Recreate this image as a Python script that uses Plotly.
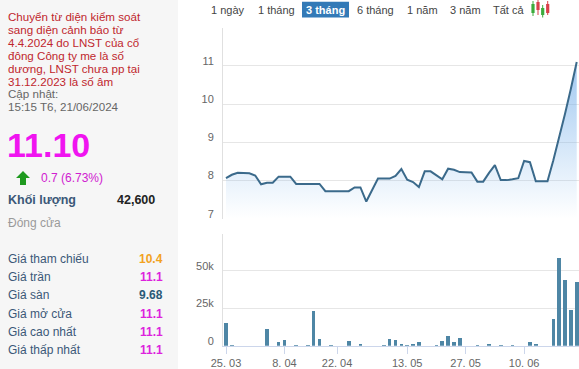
import plotly.graph_objects as go

W, H = 579, 369

# ---------------- data ----------------
dates = ["25.03", "26.03", "27.03", "28.03", "29.03",
         "01.04", "02.04", "03.04", "04.04", "05.04",
         "08.04", "09.04", "10.04", "11.04", "12.04",
         "15.04", "16.04", "17.04", "19.04",
         "22.04", "23.04", "24.04", "25.04", "26.04",
         "02.05", "03.05",
         "06.05", "07.05", "08.05", "09.05", "10.05",
         "13.05", "14.05", "15.05", "16.05", "17.05",
         "20.05", "21.05", "22.05", "23.05", "24.05",
         "27.05", "28.05", "29.05", "30.05", "31.05",
         "03.06", "04.06", "05.06", "06.06", "07.06",
         "10.06", "11.06", "12.06", "13.06", "14.06",
         "17.06", "18.06", "19.06", "20.06", "21.06"]

prices = [8.06, 8.15, 8.2, 8.2, 8.19,
          8.13, 7.9, 7.94, 7.94, 8.1,
          8.1, 8.1, 7.91, 7.91, 7.91,
          7.91, 7.91, 7.72, 7.72,
          7.72, 7.72, 7.72, 7.82, 7.82,
          7.45, 7.75,
          8.05, 8.05, 8.05, 8.12, 8.3,
          8.02, 7.96, 7.83, 8.24, 8.24,
          8.13, 8.03, 8.31, 8.28, 8.22,
          8.22, 8.21, 7.97, 7.97, 8.2,
          8.4, 8.01, 8.01, 8.03, 8.06,
          8.51, 8.48, 7.98, 7.98, 7.98,
          8.53, 9.12, 9.75, 10.4, 11.1]

volumes = [15300, 500, 0, 0, 0,
           0, 0, 11600, 0, 2700,
           4200, 0, 400, 0, 1000,
           23500, 4900, 0, 400,
           0, 0, 3600, 0, 1800,
           0, 0,
           0, 400, 4900, 4200, 1800,
           1100, 1800, 2900, 0, 0,
           400, 3600, 6700, 3100, 5400,
           0, 0, 1100, 0, 1500,
           0, 400, 0, 400, 0,
           0, 3100, 1800, 0, 0,
           18200, 59000, 44200, 24200, 42600]

tick_dates = ["25.03", "08.04", "22.04", "13.05", "27.05", "10.06"]
tick_text = ["25. 03", "8. 04", "22. 04", "13. 05", "27. 05", "10. 06"]

price_ticks = [7, 8, 9, 10, 11, 12]
price_tick_text = ["7", "8", "9", "10", "11", ""]
vol_ticks = [0, 25000, 50000, 75000]
vol_tick_text = ["0", "25k", "50k", ""]

range_buttons = ["1 ngày", "1 tháng", "3 tháng", "6 tháng", "1 năm", "3 năm", "Tất cả"]
selected_button = "3 tháng"

notice_lines = ["Chuyển từ diện kiểm soát", "sang diện cảnh báo từ",
                "4.4.2024 do LNST của cổ", "đông Công ty me là số",
                "dương, LNST chưa pp tại", "31.12.2023 là số âm"]
update_lines = ["Cập nhật:", "15:15 T6, 21/06/2024"]
last_price = "11.10"
change_text = "0.7 (6.73%)"
volume_label, volume_value = "Khối lượng", "42,600"
status_text = "Đóng cửa"
info_labels = ["Giá tham chiếu", "Giá trần", "Giá sàn", "Giá mở cửa", "Giá cao nhất", "Giá thấp nhất"]
info_values = ["10.4", "11.1", "9.68", "11.1", "11.1", "11.1"]
info_colors = ["#f2a21f", "#dd22dd", "#2b5a78", "#dd22dd", "#dd22dd", "#dd22dd"]

# ---------------- helpers (layout only) ----------------
def px(x):
    return x / W

def py(y):
    return 1 - y / H

FONT = "Liberation Sans, Arial, sans-serif"

fig = go.Figure()

fig.add_trace(go.Scatter(
    x=dates, y=prices, mode="lines",
    line=dict(color="#3b6a8b", width=2),
    fill="tozeroy",
    fillgradient=dict(type="vertical",
                      colorscale=[[0, "rgba(124,181,236,0)"], [1, "rgba(110,170,232,0.75)"]],
                      start=7, stop=11.6),
    xaxis="x", yaxis="y", hoverinfo="skip"))

fig.add_trace(go.Bar(
    x=dates, y=volumes, marker=dict(color="#4e86a5", line=dict(width=0)),
    width=0.62, xaxis="x2", yaxis="y2", hoverinfo="skip"))

xr = [-0.513, 60.39]
fig.update_layout(
    width=W, height=H, margin=dict(l=0, r=0, t=0, b=0, autoexpand=False),
    paper_bgcolor="white", plot_bgcolor="white", showlegend=False,
    font=dict(family=FONT, size=11, color="#666"),
    xaxis=dict(domain=[px(223), 1], type="category", range=xr, showticklabels=False,
               showgrid=False, zeroline=False, showline=False, anchor="y", automargin=False),
    yaxis=dict(domain=[py(218.7), py(27.7)], range=[7, 12], tickvals=price_ticks,
               ticktext=price_tick_text, gridcolor="#e6e6e6", zeroline=False,
               showline=True, linecolor="#e0e0e0", ticklabelshift=-5,
               ticklabelstandoff=6, anchor="x", automargin=False),
    xaxis2=dict(domain=[px(223), 1], type="category", range=xr, tickvals=tick_dates,
                ticktext=tick_text, showgrid=False, zeroline=False, showline=True,
                linecolor="#ccd6eb", ticks="outside", ticklen=7, tickcolor="#ccd6eb",
                anchor="y2", tickangle=0, automargin=False),
    yaxis2=dict(domain=[py(345.7), py(233.5)], range=[0, 75000], tickvals=vol_ticks,
                ticktext=vol_tick_text, gridcolor="#e6e6e6", zeroline=False,
                showline=True, linecolor="#e0e0e0", ticklabelshift=-5,
                ticklabelstandoff=6, anchor="x2", automargin=False),
    bargap=0,
)

shapes = []
annotations = []

# left panel background
shapes.append(dict(type="rect", xref="paper", yref="paper", x0=0, x1=px(178), y0=0, y1=1,
                   fillcolor="#f6f6f6", line=dict(width=0), layer="below"))

def text(x, y, s, size=12, color="#333", anchor="left", bold=False):
    if bold:
        s = "<b>" + s + "</b>"
    annotations.append(dict(x=px(x), y=py(y), xref="paper", yref="paper", text=s,
                            showarrow=False, xanchor=anchor, yanchor="middle",
                            borderpad=0, font=dict(family=FONT, size=size, color=color)))

# notice text
for k, line in enumerate(notice_lines):
    text(7, 16 + 13.1 * k, line, 11.6, "#c0262d")
text(7, 93.5, update_lines[0], 11.6, "#666")
text(7, 106.5, update_lines[1], 11.6, "#666")

text(6, 145, last_price, 34, "#f014f0", bold=True)

# green up arrow
shapes.append(dict(type="path", xref="paper", yref="paper",
                   path=f"M {px(23)},{py(171)} L {px(30)},{py(178)} L {px(26)},{py(178)} "
                        f"L {px(26)},{py(185)} L {px(20)},{py(185)} L {px(20)},{py(178)} "
                        f"L {px(16)},{py(178)} Z",
                   fillcolor="#1f9a1f", line=dict(width=0)))
text(40, 177.5, change_text, 12, "#d020d0")
text(7, 199.5, volume_label, 12.5, "#3b5878", bold=True)
text(156, 199.5, volume_value, 12.5, "#222", anchor="right", bold=True)
text(7, 223, status_text, 12, "#9a9a9a")

for k, (lab, val, col) in enumerate(zip(info_labels, info_values, info_colors)):
    yy = 258.5 + 18.35 * k
    text(7, yy, lab, 12, "#3b5878")
    text(164, yy, val, 12, col, anchor="right", bold=True)

# range buttons
btn_centers = [228, 276, 325.5, 375.5, 422, 465.5, 508.3]
for lab, cx in zip(range_buttons, btn_centers):
    if lab == selected_button:
        shapes.append(dict(type="rect", xref="paper", yref="paper",
                           x0=px(302), x1=px(349), y0=py(17.5), y1=py(1.8),
                           fillcolor="#337ab7", line=dict(width=0)))
        text(cx, 10, lab, 11, "white", anchor="center", bold=True)
    else:
        text(cx, 10, lab, 11, "#444", anchor="center")

# candlestick icon
candles = [(533, 1, 16, 4, 13, "#3cab3c"), (538, 0, 15, 2, 10, "#d9414a"),
           (542.7, 5, 17.5, 8, 15, "#3cab3c"), (547.7, 1, 15, 4, 13, "#d9414a")]
for cx, w0, w1, b0, b1, col in candles:
    shapes.append(dict(type="line", xref="paper", yref="paper", x0=px(cx), x1=px(cx),
                       y0=py(w0), y1=py(w1), line=dict(color=col, width=1)))
    shapes.append(dict(type="rect", xref="paper", yref="paper", x0=px(cx - 1.6), x1=px(cx + 1.6),
                       y0=py(b1), y1=py(b0), fillcolor=col, line=dict(width=0)))

fig.update_layout(shapes=shapes, annotations=annotations)

fig.write_html("out.html", config={"displayModeBar": False},
               post_script="document.body.style.margin='0px';document.body.style.overflow='hidden';")
